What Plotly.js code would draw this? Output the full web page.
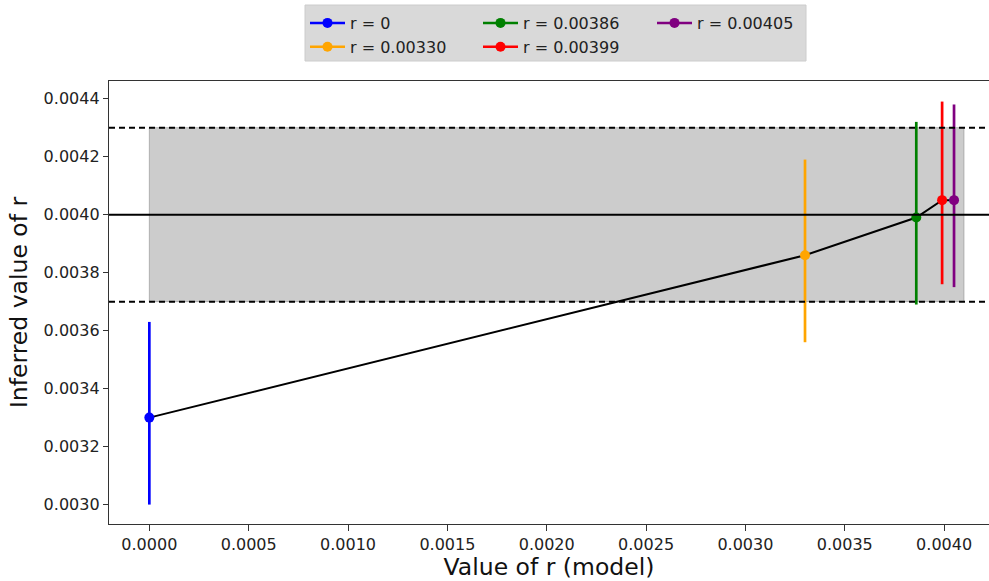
<!DOCTYPE html>
<html>
<head>
<meta charset="utf-8">
<script src="https://cdn.plot.ly/plotly-3.0.1.min.js"></script>
<style>html,body{margin:0;padding:0;background:#fff;}#chart{width:989px;height:581px;}</style>
</head>
<body>
<div id="chart"></div>
<script>
// ---- data ----
const seriesNames = ["r = 0", "r = 0.00330", "r = 0.00386", "r = 0.00399", "r = 0.00405"];
const rModel = [0, 0.00330, 0.00386, 0.00399, 0.00405];
const rInferred = [0.00330, 0.00386, 0.00399, 0.00405, 0.00405];
const errPlus = [0.00033, 0.00033, 0.00033, 0.00034, 0.00033];
const errMinus = [0.00030, 0.00030, 0.00030, 0.00029, 0.00030];
const bandX = [0, 0.0041];
const bandY = [0.0037, 0.0043];
const targetR = 0.0040;
const xTicks = [0, 0.0005, 0.0010, 0.0015, 0.0020, 0.0025, 0.0030, 0.0035, 0.0040];
const yTicks = [0.0030, 0.0032, 0.0034, 0.0036, 0.0038, 0.0040, 0.0042, 0.0044];

const colors = ["#0000ff", "#ffa500", "#008000", "#ff0000", "#800080"];
const legendOf = ["legend", "legend", "legend2", "legend2", "legend3"];

const FONT = "DejaVu Sans, sans-serif";

const traces = [];
// connecting line
traces.push({
  x: rModel, y: rInferred, mode: "lines", type: "scatter",
  line: {color: "#000000", width: 2}, showlegend: false, hoverinfo: "skip"
});
for (let i = 0; i < rModel.length; i++) {
  traces.push({
    x: [rModel[i]], y: [rInferred[i]], type: "scatter", mode: "lines+markers",
    name: seriesNames[i], legend: legendOf[i],
    marker: {color: colors[i], size: 10, symbol: "circle"},
    line: {color: colors[i], width: 2.5},
    error_y: {type: "data", symmetric: false, array: [errPlus[i]], arrayminus: [errMinus[i]],
              color: colors[i], thickness: 2.7, width: 0}
  });
}

const shapes = [
  {type: "rect", xref: "x", yref: "y", x0: bandX[0], x1: bandX[1], y0: bandY[0], y1: bandY[1],
   fillcolor: "rgba(128,128,128,0.4)", line: {color: "rgba(128,128,128,0.5)", width: 1}, layer: "below"},
  {type: "line", xref: "paper", yref: "y", x0: 0, x1: 1, y0: bandY[1], y1: bandY[1],
   line: {color: "#000000", width: 2, dash: "6px,4px"}},
  {type: "line", xref: "paper", yref: "y", x0: 0, x1: 1, y0: bandY[0], y1: bandY[0],
   line: {color: "#000000", width: 2, dash: "6px,4px"}},
  {type: "line", xref: "paper", yref: "y", x0: 0, x1: 1, y0: targetR, y1: targetR,
   line: {color: "#000000", width: 2}},
  // legend background box
  {type: "rect", xref: "paper", yref: "paper", x0: (305-109)/880, x1: (806-109)/880,
   y0: (524-61)/443, y1: (524-5)/443, fillcolor: "#d9d9d9", line: {color: "#cccccc", width: 1}, layer: "below"}
];

const legendCommon = {
  orientation: "v", yanchor: "top", xanchor: "left", y: (524-6)/443,
  bgcolor: "rgba(0,0,0,0)", borderwidth: 0,
  font: {family: FONT, size: 16, color: "#222"}, itemwidth: 35, tracegroupgap: 0
};

const layout = {
  width: 989, height: 581,
  margin: {l: 109, r: 0, t: 81, b: 57, pad: 0},
  paper_bgcolor: "#ffffff", plot_bgcolor: "#ffffff",
  font: {family: FONT, size: 16, color: "#222"},
  xaxis: {
    range: [-0.000203, 0.004226], tickvals: xTicks, tickformat: ".4f",
    ticks: "outside", ticklen: 6, tickwidth: 1, tickcolor: "#333",
    showline: true, linecolor: "#333", linewidth: 1.2, mirror: true,
    showgrid: false, zeroline: false,
    tickfont: {family: FONT, size: 16, color: "#222"},
    title: {text: "Value of r (model)", font: {family: FONT, size: 23.5, color: "#111"}, standoff: 7}
  },
  yaxis: {
    range: [0.002933, 0.004461], tickvals: yTicks, tickformat: ".4f",
    ticks: "outside", ticklen: 5, tickwidth: 1, tickcolor: "#333",
    showline: true, linecolor: "#333", linewidth: 1.2, mirror: false,
    showgrid: false, zeroline: false,
    tickfont: {family: FONT, size: 16, color: "#222"},
    title: {text: "Inferred value of r", font: {family: FONT, size: 23.5, color: "#111"}, standoff: 9}
  },
  shapes: shapes,
  legend: Object.assign({}, legendCommon, {x: (305-109)/880}),
  legend2: Object.assign({}, legendCommon, {x: (478-109)/880}),
  legend3: Object.assign({}, legendCommon, {x: (652-109)/880}),
  showlegend: true
};

Plotly.newPlot("chart", traces, layout, {displayModeBar: false, staticPlot: true});
</script>
</body>
</html>
